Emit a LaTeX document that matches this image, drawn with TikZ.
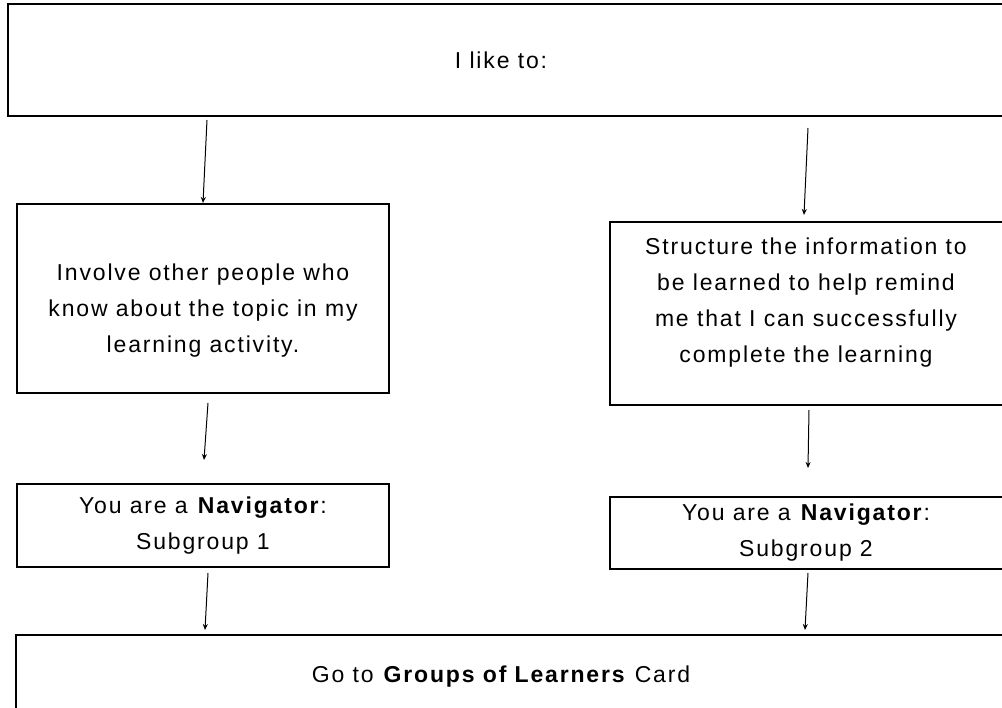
\documentclass[tikz,border=0pt]{standalone}
\usepackage{fontspec}
\setmainfont{Liberation Sans}[LetterSpace=8]
\usetikzlibrary{arrows.meta}
\begin{document}
\begin{tikzpicture}[x=1pt,y=-1pt,
  box/.style={draw,line width=1.8pt},
  txt/.style={align=center,font=\fontsize{23}{36}\selectfont,inner sep=0pt},
  arr/.style={line width=1pt,-{Stealth[length=6pt,width=5pt]}}]
\useasboundingbox (0,0) rectangle (1002,708);
\clip (0,0) rectangle (1002,708);
\fill[white] (0,0) rectangle (1002,708);
% boxes
\draw[box] (1020,4) -- (8,4) -- (8,116) -- (1020,116);
\draw[box] (17,204) rectangle (389,393);
\draw[box] (1020,222) -- (610,222) -- (610,405) -- (1020,405);
\draw[box] (17,484) rectangle (389,567);
\draw[box] (1020,497) -- (610,497) -- (610,569) -- (1020,569);
\draw[box] (16,720) -- (16,635) -- (1020,635);
% texts
\node[txt] (t0) at (501,60) {I like to:};
\node[txt] (t1) at (203,311) {Involve other people who\\know about the topic in my\\learning activity.};
\node[txt] (t2) at (806,303) {Structure the information to\\be learned to help remind\\me that I can successfully\\complete the learning};
\node[txt] (t3) at (203,526) {You are a \textbf{Navigator}:\\Subgroup 1};
\node[txt] (t4) at (806,533) {You are a \textbf{Navigator}:\\Subgroup 2};
\node[txt] (t5) at (501,677) {Go to \textbf{Groups of Learners} Card};
% arrows
\coordinate (a1s) at (207,120); \coordinate (a1e) at (203,203);
\coordinate (a2s) at (808,128); \coordinate (a2e) at (804,215);
\coordinate (a3s) at (208,403); \coordinate (a3e) at (204,460);
\coordinate (a4s) at (809,410); \coordinate (a4e) at (808,468);
\coordinate (a5s) at (208,573); \coordinate (a5e) at (205,630);
\coordinate (a6s) at (808,573); \coordinate (a6e) at (805,630);
\draw[arr] (a1s) -- (a1e);
\draw[arr] (a2s) -- (a2e);
\draw[arr] (a3s) -- (a3e);
\draw[arr] (a4s) -- (a4e);
\draw[arr] (a5s) -- (a5e);
\draw[arr] (a6s) -- (a6e);
\end{tikzpicture}
\end{document}
